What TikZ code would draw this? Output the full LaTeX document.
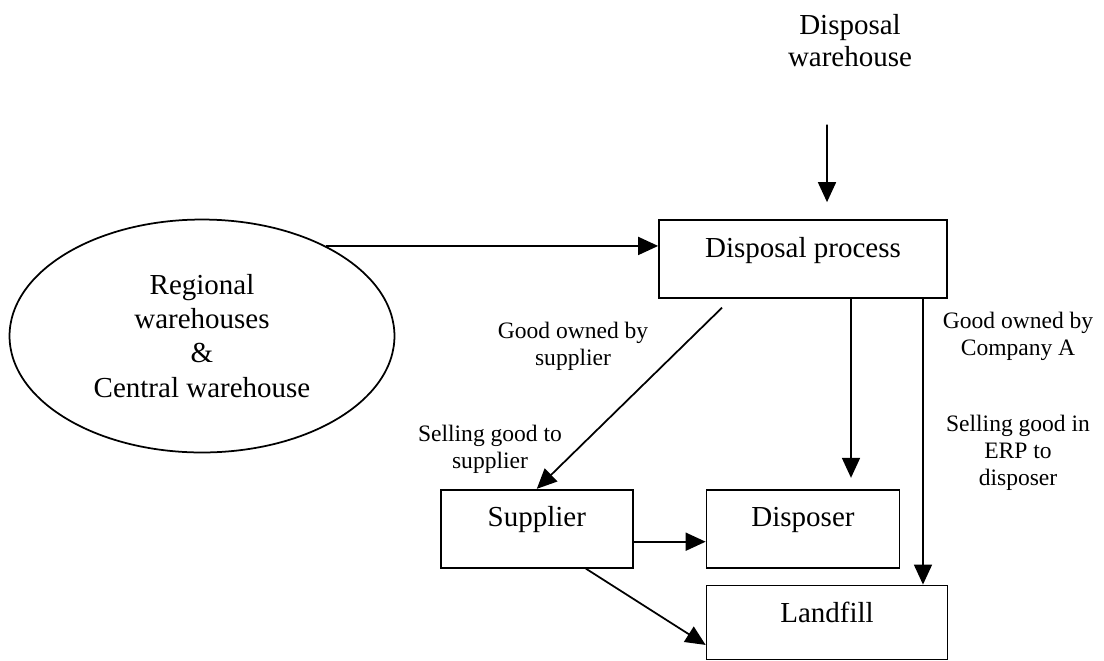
\documentclass[tikz,border=0pt]{standalone}
\usepackage{fontspec}
\setmainfont{Liberation Serif}
\usetikzlibrary{shapes.geometric,arrows.meta,positioning,calc}

\begin{document}
\begin{tikzpicture}[x=0.02cm, y=-0.02cm,
    box/.style={rectangle, draw, line width=0.035cm, minimum height=1.56cm, inner sep=0pt,
        text height=0.45cm, text depth=0.53cm, font=\fontsize{16.5}{19.4}\selectfont},
    store/.style={ellipse, draw, line width=0.035cm, minimum width=7.7cm, minimum height=4.66cm,
        inner sep=0pt, align=center, font=\fontsize{16.5}{19.4}\selectfont},
    note/.style={align=center, inner sep=0pt, font=\fontsize{13.4}{15.4}\selectfont},
    arrow/.style={-{Triangle[length=0.4cm,width=0.36cm]}, line width=0.035cm}]

    \useasboundingbox (0,0) rectangle (1104,660);

    \node[box, minimum width=5.76cm] (proc) at (803,259) {Disposal process};
    \node[box, minimum width=3.86cm, below=3.8cm of proc] (disp) {Disposer};
    \node[box, minimum width=3.84cm, left=1.44cm of disp] (sup) {Supplier};
    \node[box, minimum width=4.82cm, minimum height=1.48cm, text depth=0.45cm,
        below right=0.32cm and 0cm of disp.south west] (land) {Landfill};
    \node[store] (wh) at (202,336) {Regional\\warehouses\\\&\\Central warehouse};
    \node[note, font=\fontsize{16.5}{18.2}\selectfont] (dw) at (850,41) {Disposal\\warehouse};

    \node[note] (own1) at (573,346) {Good owned by\\supplier};
    \node[note] (sell1) at (490,449) {Selling good to\\supplier};
    \node[note] (own2) at (1018,336) {Good owned by\\Company A};
    \node[note] (sell2) at (1018,453) {Selling good in\\ERP to\\disposer};

    \draw[arrow, shorten <=1.14cm, shorten >=0.34cm] ([xshift=-0.46cm]dw.south) -- ([xshift=0.48cm]proc.north);
    \draw[arrow] (wh.36) -- (wh.36 -| proc.west);
    \draw[arrow, shorten <=0.25cm] ([xshift=-1.44cm]proc.south) -- (sup.north);
    \draw[arrow, shorten >=0.22cm] ([xshift=0.96cm]proc.south) -- ([xshift=0.96cm]proc.south |- disp.north);
    \draw[arrow] ([xshift=2.4cm]proc.south) -- ([xshift=2.4cm]proc.south |- land.north);
    \draw[arrow] ([yshift=-0.26cm]sup.east) -- ([yshift=-0.26cm]disp.west);
    \draw[arrow] ([xshift=0.98cm]sup.south) -- ([yshift=-0.45cm]land.west);
\end{tikzpicture}
\end{document}
